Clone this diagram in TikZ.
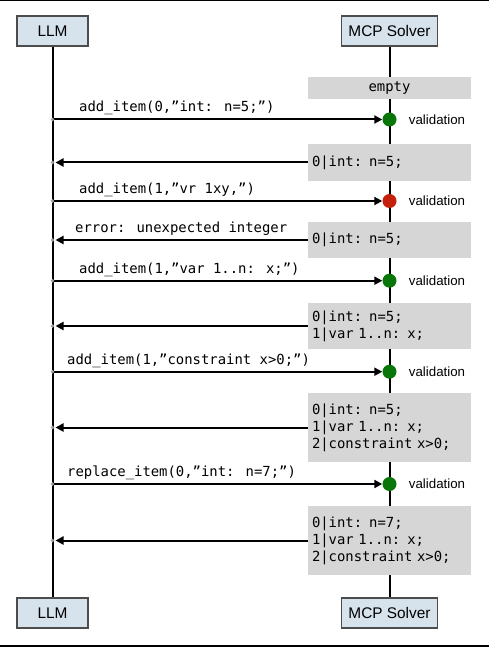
\documentclass[tikz,border=0pt]{standalone}
\usepackage{fontspec}
\setmainfont{Liberation Sans}
\newfontfamily\codefont{DejaVu Sans Mono}
\usetikzlibrary{arrows.meta,positioning}
\definecolor{headfill}{RGB}{214,226,236}
\definecolor{stategray}{RGB}{214,214,214}
\definecolor{okgreen}{RGB}{8,118,8}
\definecolor{errred}{RGB}{196,32,12}

\begin{document}
\begin{tikzpicture}[x=1pt,y=-1pt]
\tikzstyle{actor} = [draw=black!70,fill=headfill,line width=1.4pt,minimum height=30pt,inner sep=0pt,font=\fontsize{15.4}{18}\selectfont]
\tikzstyle{state} = [fill=stategray,minimum width=163pt,text width=155pt,inner xsep=4pt,inner ysep=0pt,align=left,font=\codefont\fontsize{13.9}{17}\selectfont]
\tikzstyle{check} = [circle,inner sep=0pt,minimum size=14pt]
\tikzstyle{msg} = [line width=2pt,-{Triangle[length=8pt,width=8pt]}]
\tikzstyle{code} = [font=\codefont\fontsize{13.9}{17}\selectfont,inner sep=0pt,anchor=base west]
\tikzstyle{ann} = [font=\fontsize{13.3}{16}\selectfont,inner sep=0pt]
\tikzstyle{life} = [line width=2pt]
\def\xl{52.5}
\def\xr{389.5}
\useasboundingbox (0,0) rectangle (489,647);
\draw[line width=1.2pt] (0,0.6) -- (489,0.6);
\draw[line width=1.5pt] (0,646) -- (489,646);
% actors and lifelines
\node[actor,minimum width=71pt] (llmTop) at (\xl,31) {LLM};
\node[actor,minimum width=96pt] (mcpTop) at (\xr,31) {MCP Solver};
\node[actor,minimum width=71pt] (llmBot) at (\xl,613) {LLM};
\node[actor,minimum width=96pt] (mcpBot) at (\xr,613) {MCP Solver};
\draw[life] (llmTop) -- (llmBot);
\draw[life] (mcpTop) -- (mcpBot);
% solver states
\node[state,minimum height=22pt,align=center] (s0) at (\xr,88) {empty};
\node[state,minimum height=37pt] (s1) at (\xr,162.5) {0|int: n=5;};
\node[state,minimum height=36pt] (s2) at (\xr,240) {0|int: n=5;};
\node[state,minimum height=46pt] (s3) at (\xr,326) {0|int: n=5;\\1|var 1..n: x;};
\node[state,minimum height=69pt] (s4) at (\xr,427.5) {0|int: n=5;\\1|var 1..n: x;\\2|constraint x>0;};
\node[state,minimum height=69pt] (s5) at (\xr,540.5) {0|int: n=7;\\1|var 1..n: x;\\2|constraint x>0;};
% validation points
\node[check,fill=okgreen] (v1) at (\xr,119.5) {};
\node[check,fill=errred] (v2) at (\xr,201) {};
\node[check,fill=okgreen] (v3) at (\xr,280.7) {};
\node[check,fill=okgreen] (v4) at (\xr,371.7) {};
\node[check,fill=okgreen] (v5) at (\xr,484) {};
\node[ann,right=12pt of v1] (t1) {validation};
\node[ann,right=12pt of v2] (t2) {validation};
\node[ann,right=12pt of v3] (t3) {validation};
\node[ann,right=12pt of v4] (t4) {validation};
\node[ann,right=12pt of v5] (t5) {validation};
% ends on the LLM lifeline
\path (llmTop |- v1) coordinate (m1) (llmTop |- s1) coordinate (r1)
      (llmTop |- v2) coordinate (m2) (llmTop |- s2) coordinate (r2)
      (llmTop |- v3) coordinate (m3) (llmTop |- s3) coordinate (r3)
      (llmTop |- v4) coordinate (m4) (llmTop |- s4) coordinate (r4)
      (llmTop |- v5) coordinate (m5) (llmTop |- s5) coordinate (r5);
% messages
\draw[msg] (m1) -- (v1);
\draw[msg,shorten >=3pt] (s1) -- (r1);
\draw[msg] (m2) -- (v2);
\draw[msg,shorten >=3pt] (s2) -- (r2);
\draw[msg] (m3) -- (v3);
\draw[msg,shorten >=3pt] (s3) -- (r3);
\draw[msg] (m4) -- (v4);
\draw[msg,shorten >=3pt] (s4) -- (r4);
\draw[msg] (m5) -- (v5);
\draw[msg,shorten >=3pt] (s5) -- (r5);
\node[code] (q1) at ([xshift=26.5pt,yshift=7.5pt]m1) {add\_item(0,”int: n=5;”)};
\node[code] (q2) at ([xshift=26.5pt,yshift=7.5pt]m2) {add\_item(1,”vr 1xy,”)};
\node[code] (e2) at ([xshift=22.5pt,yshift=8pt]r2) {error: unexpected integer};
\node[code] (q3) at ([xshift=26.5pt,yshift=7.5pt]m3) {add\_item(1,”var 1..n: x;”)};
\node[code] (q4) at ([xshift=14.5pt,yshift=7.5pt]m4) {add\_item(1,”constraint x>0;”)};
\node[code] (q5) at ([xshift=14.5pt,yshift=7.5pt]m5) {replace\_item(0,”int: n=7;”)};
\foreach \c in {m1,r1,m2,r2,m3,r3,m4,r4,m5,r5}
  \fill[gray!75] (\c) circle (1.8pt);
\end{tikzpicture}
\end{document}
